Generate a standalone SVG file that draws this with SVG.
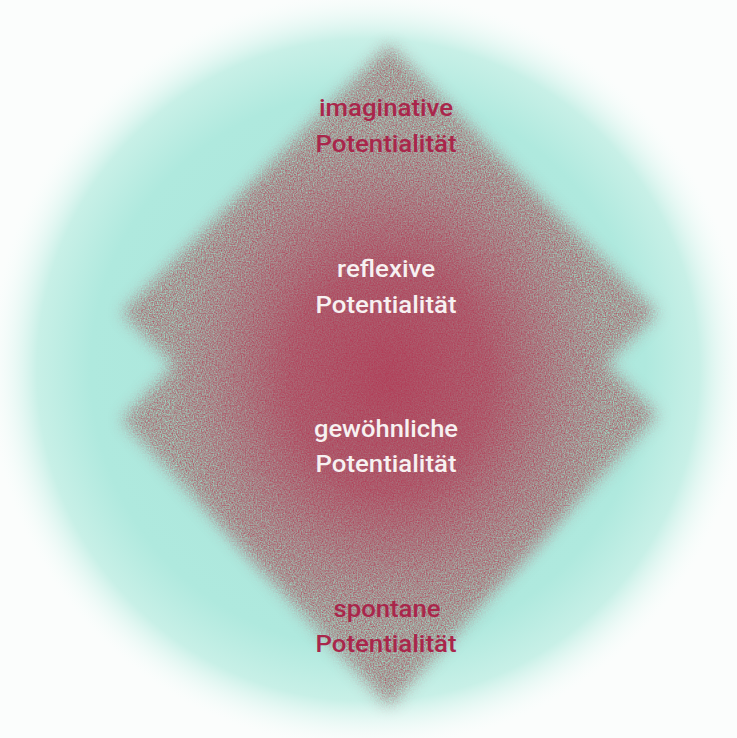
<svg xmlns="http://www.w3.org/2000/svg" width="737" height="738" viewBox="0 0 737 738">
<defs>
<radialGradient id="teal" cx="368" cy="370" r="385" gradientUnits="userSpaceOnUse">
<stop offset="0" stop-color="#a8e5da"/>
<stop offset="0.72" stop-color="#afe9de"/>
<stop offset="0.86" stop-color="#c8f0e7"/>
<stop offset="1" stop-color="#ffffff" stop-opacity="0"/>
</radialGradient>
<radialGradient id="red" cx="389" cy="378" r="240" gradientTransform="translate(389 378) scale(0.92 1.05) translate(-389 -378)" gradientUnits="userSpaceOnUse">
<stop offset="0" stop-color="#b2304f" stop-opacity="0.78"/>
<stop offset="0.45" stop-color="#b2304f" stop-opacity="0.62"/>
<stop offset="0.8" stop-color="#b2304f" stop-opacity="0.2"/>
<stop offset="1" stop-color="#b2304f" stop-opacity="0"/>
</radialGradient>
<filter id="grain" x="0" y="0" width="737" height="738" filterUnits="userSpaceOnUse" color-interpolation-filters="sRGB">
<feGaussianBlur in="SourceAlpha" stdDeviation="8" result="shape"/>
<feTurbulence type="fractalNoise" baseFrequency="0.75" numOctaves="2" seed="3" result="noise"/>
<feColorMatrix in="noise" type="matrix" values="0.12 0 0 0 0.587  -0.76 0 0 0 0.994  -0.54 0 0 0 0.868  0 0 0 0 1" result="col"/>
<feComposite in="col" in2="shape" operator="in"/>
</filter>
<style>
.lbl{font-family:Roboto,"Liberation Sans",sans-serif;font-size:24px;font-weight:500;text-anchor:middle;}
.dark{fill:#a9264b;}
.light{fill:#f7f1f1;}
</style>
</defs>
<rect width="737" height="738" fill="#fbfdfc"/>
<circle cx="368" cy="370" r="385" fill="url(#teal)"/>
<g id="diamonds" filter="url(#grain)">
<polygon id="upper" points="389,45 657,313 389,581 122,313" fill="#000"/>
<polygon id="lower" points="389,140 657,415 389,706 122,420" fill="#000"/>
</g>
<g id="core">
<ellipse cx="389" cy="378" rx="235" ry="265" fill="url(#red)"/>
</g>
<g id="node-imaginative">
<text class="lbl dark" x="386" y="116" textLength="134" lengthAdjust="spacingAndGlyphs">imaginative</text>
<text class="lbl dark" x="386" y="152" textLength="141" lengthAdjust="spacingAndGlyphs">Potentialität</text>
</g>
<g id="node-reflexive">
<text class="lbl light" x="386" y="277" textLength="98" lengthAdjust="spacingAndGlyphs">reflexive</text>
<text class="lbl light" x="386" y="313" textLength="141" lengthAdjust="spacingAndGlyphs">Potentialität</text>
</g>
<g id="node-gewoehnliche">
<text class="lbl light" x="386" y="437" textLength="144" lengthAdjust="spacingAndGlyphs">gewöhnliche</text>
<text class="lbl light" x="386" y="472" textLength="141" lengthAdjust="spacingAndGlyphs">Potentialität</text>
</g>
<g id="node-spontane">
<text class="lbl dark" x="387" y="617" textLength="107" lengthAdjust="spacingAndGlyphs">spontane</text>
<text class="lbl dark" x="386" y="652" textLength="141" lengthAdjust="spacingAndGlyphs">Potentialität</text>
</g>
<g id="connectors"/>
</svg>
